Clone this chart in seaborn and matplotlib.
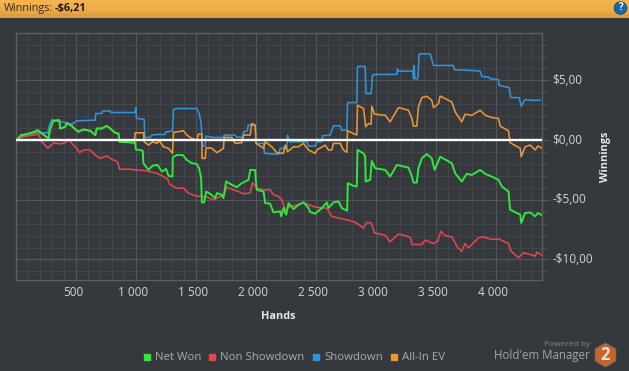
import matplotlib.pyplot as plt
import matplotlib.ticker as mticker
import matplotlib.transforms as mtransforms
import numpy as np
import seaborn as sns
from matplotlib.lines import Line2D
from matplotlib.patches import Circle, RegularPolygon

x_ticks = [500, 1000, 1500, 2000, 2500, 3000, 3500, 4000]
x_labels = ["500", "1 000", "1 500", "2 000", "2 500", "3 000", "3 500", "4 000"]
y_ticks = [-10, -5, 0, 5]
y_labels = ["-$10,00", "-$5,00", "$0,00", "$5,00"]

net_hands = [5, 45, 95, 150, 185, 220, 275, 290, 315, 365, 372, 415, 428, 470, 490, 525, 567, 622, 665, 678, 720, 760,
             790, 830, 858, 866, 997, 1002, 1060, 1066, 1108, 1144, 1183, 1220, 1255, 1275, 1308, 1311, 1344, 1394,
             1428, 1469, 1511, 1530, 1547, 1553, 1572, 1589, 1622, 1664, 1678, 1719, 1733, 1755, 1803, 1844, 1886,
             1942, 1956, 1997, 2003, 2011, 2067, 2081, 2122, 2150, 2206, 2214, 2233, 2256, 2275, 2317, 2358, 2400,
             2442, 2456, 2497, 2553, 2594, 2608, 2650, 2692, 2719, 2764, 2769, 2817, 2844, 2850, 2900, 2914, 2919,
             2956, 2969, 2997, 3081, 3122, 3178, 3275, 3303, 3317, 3344, 3358, 3386, 3428, 3469, 3492, 3539, 3636,
             3664, 3719, 3761, 3803, 3872, 3914, 3969, 4025, 4053, 4108, 4122, 4206, 4214, 4247, 4289, 4331, 4353, 4386]
net_won = [-0.11, 0.42, 0.5, 0.67, 0.83, 0.55, 0.14, 0.97, 1.6, 1.67, 0.97, 1.1, 1.44, 1.17, 0.97, 0.7, 0.89, 0.78,
           0.42, 0.97, 0.97, 1.19, 0.97, 0.61, 0.55, -0.14, -0.22, -0.78, -0.89, -1.94, -2.5, -2.14, -2.08, -2.64,
           -2.42, -3.0, -3.06, -1.44, -1.25, -1.25, -1.67, -1.94, -2.0, -2.36, -3.19, -5.22, -5.22, -4.31, -4.5,
           -4.86, -4.44, -4.58, -4.86, -3.47, -3.75, -3.94, -3.61, -3.33, -2.5, -2.5, -3.33, -4.17, -4.31, -5.28,
           -5.33, -6.06, -5.97, -6.39, -5.69, -6.25, -5.28, -5.78, -5.42, -5.22, -5.69, -6.03, -6.17, -5.69, -5.22,
           -5.69, -5.22, -5.14, -5.69, -5.92, -3.61, -3.83, -3.89, -0.83, -1.11, -1.39, -3.47, -3.33, -1.75, -2.36,
           -2.5, -3.06, -2.08, -2.31, -3.06, -3.56, -3.56, -2.36, -1.53, -1.17, -1.53, -2.5, -1.39, -1.94, -2.78,
           -3.47, -2.83, -2.92, -2.5, -2.83, -3.06, -3.33, -3.89, -4.31, -5.83, -6.25, -6.94, -6.11, -6.06, -6.39,
           -6.11, -6.28]

nsd_hands = [5, 40, 95, 150, 192, 220, 270, 317, 367, 414, 442, 470, 511, 533, 567, 622, 664, 706, 761, 803, 850, 867,
             942, 1011, 1094, 1178, 1233, 1269, 1275, 1289, 1344, 1400, 1442, 1497, 1553, 1594, 1650, 1706, 1733, 1761,
             1817, 1858, 1900, 1956, 1975, 2011, 2067, 2122, 2150, 2192, 2219, 2247, 2289, 2358, 2400, 2442, 2497,
             2553, 2594, 2636, 2692, 2775, 2831, 2900, 2928, 2964, 2992, 3081, 3122, 3192, 3247, 3289, 3303, 3386,
             3414, 3483, 3519, 3544, 3581, 3636, 3686, 3719, 3747, 3775, 3858, 3900, 3969, 4025, 4108, 4130, 4192,
             4233, 4289, 4331, 4344, 4386]
non_showdown = [-0.11, 0.22, 0.33, 0.42, 0.47, -0.14, -0.69, -0.22, -0.33, -0.22, 0.06, -0.28, -0.69, -1.06, -0.83,
                -0.83, -1.25, -1.53, -1.33, -1.61, -1.81, -2.44, -2.44, -2.5, -2.58, -2.78, -3.06, -3.28, -3.47, -3.75,
                -4.03, -4.03, -4.44, -4.67, -4.72, -4.78, -5.0, -4.72, -4.72, -3.94, -4.17, -4.31, -4.5, -4.44, -3.56,
                -4.03, -4.17, -4.17, -4.58, -4.72, -5.0, -5.83, -5.56, -5.42, -5.22, -5.42, -5.61, -5.69, -5.69, -6.39,
                -6.53, -6.72, -6.89, -7.36, -6.89, -6.94, -7.78, -7.97, -8.53, -7.86, -8.0, -8.14, -8.75, -8.75, -8.39,
                -8.67, -8.47, -7.64, -8.0, -8.11, -9.03, -9.31, -8.67, -9.03, -8.19, -8.11, -8.33, -8.28, -8.67, -9.31,
                -9.86, -9.44, -9.58, -9.72, -9.39, -9.64]

sd_hands = [5, 40, 95, 150, 192, 270, 283, 303, 469, 511, 664, 669, 719, 728, 789, 794, 997, 1003, 1008, 1072, 1078,
            1122, 1136, 1178, 1247, 1253, 1308, 1317, 1344, 1511, 1531, 1547, 1558, 1581, 1586, 1650, 1733, 1739, 1831,
            1839, 1894, 1900, 1933, 1939, 1997, 2006, 2067, 2075, 2192, 2206, 2261, 2267, 2283, 2428, 2442, 2497, 2511,
            2553, 2558, 2622, 2650, 2706, 2719, 2761, 2767, 2844, 2850, 2914, 2922, 2964, 2975, 2997, 3178, 3183, 3189,
            3311, 3317, 3322, 3328, 3353, 3364, 3456, 3483, 3650, 3658, 3803, 3872, 3886, 3942, 3956, 4025, 4031, 4114,
            4128, 4197, 4214, 4247, 4303, 4372]
showdown = [-0.11, 0.25, 0.45, 0.6, 0.61, 0.61, 1.25, 1.72, 1.33, 1.61, 1.67, 2.22, 2.22, 2.44, 2.44, 2.31, 2.31, 2.72,
            1.81, 1.75, 0.22, 0.22, 0.42, 0.47, 0.47, 0.69, 0.75, 2.56, 2.64, 2.64, 2.22, 1.39, -0.5, -0.5, 0.33, 0.22,
            0.22, 0.42, 0.42, 0.28, 0.22, 0.69, 0.78, 1.25, 1.25, -0.28, -0.28, -1.11, -1.19, -0.69, -0.69, 0.42, -0.14,
            -0.14, -0.5, -0.5, -0.14, -0.14, 0.36, 0.42, 1.19, 1.19, 0.83, 0.83, 3.14, 3.14, 6.17, 6.17, 3.89, 3.89,
            5.42, 5.5, 5.5, 5.97, 5.78, 5.78, 5.14, 6.25, 5.14, 5.14, 7.22, 7.22, 6.25, 6.25, 5.89, 5.83, 5.78, 5.33,
            5.28, 5.14, 5.06, 4.58, 4.39, 3.56, 3.56, 2.86, 3.39, 3.33, 3.33]

ev_hands = [5, 45, 95, 150, 185, 220, 275, 290, 315, 365, 372, 415, 428, 470, 490, 525, 567, 622, 665, 678, 720, 760,
            790, 830, 858, 866, 990, 997, 1067, 1072, 1108, 1144, 1178, 1200, 1233, 1275, 1308, 1317, 1400, 1428, 1469,
            1511, 1525, 1553, 1554, 1581, 1589, 1636, 1678, 1733, 1739, 1803, 1831, 1886, 1900, 1956, 1969, 1997, 2006,
            2067, 2081, 2136, 2178, 2233, 2247, 2267, 2317, 2358, 2400, 2442, 2497, 2511, 2581, 2608, 2636, 2650, 2706,
            2733, 2761, 2767, 2844, 2850, 2900, 2919, 2942, 2964, 2969, 2992, 3081, 3122, 3178, 3192, 3275, 3303, 3317,
            3344, 3358, 3386, 3428, 3469, 3483, 3525, 3539, 3636, 3664, 3719, 3747, 3803, 3872, 3914, 3969, 4025, 4039,
            4108, 4122, 4206, 4214, 4247, 4289, 4331, 4353, 4386]
all_in_ev = [-0.11, 0.42, 0.5, 0.67, 0.83, 0.55, 0.14, 0.97, 1.6, 1.67, 0.97, 1.1, 1.44, 1.17, 0.97, 0.7, 0.89, 0.78,
             0.42, 0.97, 0.97, 1.19, 0.97, 0.61, 0.55, -0.14, -0.22, 0.61, 0.61, -0.14, -0.42, -0.14, -0.28, -0.06,
             -0.56, -0.69, -1.11, 0.64, 0.78, 0.42, 0.14, 0.0, 0.5, 0.5, -1.53, -1.53, -0.64, -0.69, -1.06, -0.69, 0.22,
             0.22, -0.28, -0.22, 0.42, 0.42, 1.39, 1.25, -0.28, -0.69, -0.14, -0.56, -1.06, -1.11, -0.42, -0.97, -0.56,
             -0.56, -0.28, -0.83, -1.11, -0.83, -0.42, -0.83, -0.83, -0.28, -0.28, -0.83, -1.03, 0.78, 0.42, 2.92, 2.64,
             1.11, 1.39, 1.33, 2.83, 2.17, 2.08, 1.53, 2.5, 2.72, 2.5, 1.81, 1.17, 1.17, 2.78, 3.56, 3.67, 3.33, 2.72,
             3.06, 3.69, 3.19, 2.36, 1.53, 2.17, 2.08, 2.5, 2.08, 1.89, 1.81, 1.17, 0.78, -0.22, -0.69, -1.39, -0.56,
             -0.42, -0.83, -0.5, -0.67]

BG = "#35383c"
GREEN = "#2ee83a"
RED = "#e4474b"
BLUE = "#2f95d8"
ORANGE = "#ee9636"
W, H = 629, 371

sns.set_theme(style="dark")
plt.rcParams["font.family"] = ["Open Sans", "DejaVu Sans"]

fig = plt.figure(figsize=(W / 100, H / 100), dpi=100, facecolor=BG)
ax = fig.add_axes([15.5 / W, 1 - 279.5 / H, (541.7 - 15.5) / W, (279.5 - 33) / H], facecolor=BG)

# draw order matters, green sits on top
series = [
    (sd_hands, showdown, BLUE, 1.15),
    (ev_hands, all_in_ev, ORANGE, 1.15),
    (nsd_hands, non_showdown, RED, 1.15),
    (net_hands, net_won, GREEN, 1.4),
]
for hands, values, color, lw in series:
    sns.lineplot(x=hands, y=values, color=color, linewidth=lw, sort=False, estimator=None, errorbar=None, ax=ax)

ax.axhline(0, color="white", linewidth=1.7, zorder=5)

ax.set_xlim(0, 4385)
ax.set_ylim(-11.68, 8.97)
ax.set(xlabel="", ylabel="")

ax.xaxis.set_major_locator(mticker.FixedLocator(x_ticks))
ax.xaxis.set_major_formatter(mticker.FixedFormatter(x_labels))
ax.xaxis.set_minor_locator(mticker.MultipleLocator(100))
ax.yaxis.set_major_locator(mticker.FixedLocator(y_ticks))
ax.yaxis.set_major_formatter(mticker.FixedFormatter(y_labels))
ax.yaxis.set_minor_locator(mticker.MultipleLocator(1))
ax.yaxis.tick_right()

ax.grid(True, which="major", color="#53565a", linewidth=0.8)
ax.grid(True, which="minor", color="#43464a", linewidth=0.75)
ax.set_axisbelow(True)
for spine in ax.spines.values():
    spine.set_visible(True)
    spine.set_color("#5c5f62")
    spine.set_linewidth(1)

ax.tick_params(axis="x", which="major", length=3, pad=2, width=0.8, color="#505356", labelcolor="#d4d5d6", labelsize=8.5)
ax.tick_params(axis="y", which="major", length=6, pad=1.5, width=0.8, color="#55585b", labelcolor="#d4d5d6", labelsize=8.5)
ax.tick_params(axis="both", which="minor", length=3, width=0.8, color="#505356")

# tick labels in the original sit a bit off centre
x_shift = mtransforms.ScaledTranslation(-2.5 / 100, 0, fig.dpi_scale_trans)
y_shift = mtransforms.ScaledTranslation(0, 1.5 / 100, fig.dpi_scale_trans)
for label in ax.get_xticklabels():
    label.set_transform(label.get_transform() + x_shift)
for label in ax.get_yticklabels():
    label.set_transform(label.get_transform() + y_shift)

# everything around the plot, in pixels
chrome = fig.add_axes([0, 0, 1, 1], facecolor="none")
chrome.set_xlim(0, W)
chrome.set_ylim(H, 0)
chrome.axis("off")

grad = np.array([[0.0], [0.3], [0.6], [0.8], [1.0]])
header_cmap = sns.blend_palette(["#f4b34e", "#f3b14b", "#f1ae48", "#eca845", "#dc9c40"], as_cmap=True)
chrome.imshow(grad, extent=(0, W, 18, 0), aspect="auto", cmap=header_cmap, zorder=1)
chrome.set_xlim(0, W)
chrome.set_ylim(H, 0)

chrome.text(4, 9, "Winnings:", fontsize=7.8, color="#2b2b2b", va="center", ha="left", zorder=3)
chrome.text(55, 9, "-$6,21", fontsize=7.8, color="#1c1c1c", fontweight="bold", va="center", ha="left", zorder=3)

chrome.add_patch(Circle((620.5, 8), 6.3, facecolor="#1668ad", edgecolor="#0d4a80", linewidth=0.6, zorder=3))
chrome.text(620.5, 8, "?", fontsize=7, color="white", fontweight="bold", ha="center", va="center", zorder=4)

chrome.text(278, 316.5, "Hands", fontsize=7.8, color="#e8e8e8", fontweight="bold", ha="center", va="center")
chrome.text(605.5, 156.5, "Winnings", fontsize=7.8, color="#e8e8e8", fontweight="bold", rotation=90, ha="center", va="center")

handles = [
    Line2D([], [], linestyle="none", marker="s", markersize=4.5, color=GREEN, label="Net Won"),
    Line2D([], [], linestyle="none", marker="s", markersize=4.5, color=RED, label="Non Showdown"),
    Line2D([], [], linestyle="none", marker="s", markersize=4.5, color=BLUE, label="Showdown"),
    Line2D([], [], linestyle="none", marker="s", markersize=4.5, color=ORANGE, label="All-In EV"),
]
fig.legend(handles=handles, ncol=4, frameon=False, loc="center left", bbox_to_anchor=(142 / W, 1 - 358 / H),
           fontsize=8.2, labelcolor="#a9abad", handlelength=0.8, handletextpad=0.3, columnspacing=0.6,
           borderpad=0, borderaxespad=0)

chrome.text(590, 345, "Powered by", fontsize=6, color="#85888b", ha="right", va="center")
chrome.text(590, 356, "Hold'em Manager", fontsize=8.3, color="#a3a5a7", ha="right", va="center")
chrome.add_patch(RegularPolygon((605.5, 355), 6, radius=12, facecolor="#c4662a", edgecolor="#6d6f71", linewidth=0.5))
chrome.text(605.5, 354.5, "2", fontsize=12, color="#e8e2dc", fontweight="bold", ha="center", va="center")

fig.savefig("out.png", dpi=100, facecolor=BG)
